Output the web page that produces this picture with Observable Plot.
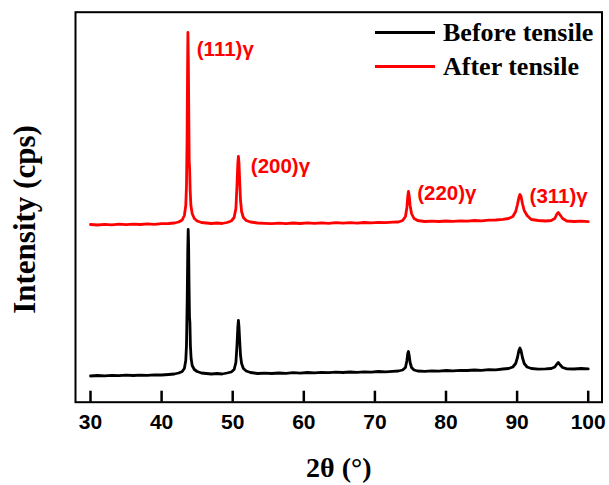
<!DOCTYPE html>
<html>
<head>
<meta charset="utf-8">
<script src="https://cdn.jsdelivr.net/npm/d3@7"></script>
<script src="https://cdn.jsdelivr.net/npm/@observablehq/plot@0.6"></script>
<style>
  html, body { margin: 0; padding: 0; background: #fff; }
  #wrap { position: relative; width: 609px; height: 485px; }
  .legend { position: absolute; left: 375px; top: 16px; font-family: "Liberation Serif", "Times New Roman", serif; font-weight: bold; font-size: 26px; color: #000; }
  .row { display: flex; align-items: center; height: 33.5px; line-height: 33.5px; }
  .sw { width: 60px; height: 3px; margin-right: 8px; }
</style>
</head>
<body>
<div id="wrap"></div>
<script>
// 2θ (°) positions and intensities (cps, arbitrary scale)
const beforeX = [30,31,32,33,34,35,36,37,38,39,40,41,41.8,42.4,42.9,43.2,43.4,43.5,43.6,43.68,43.74,43.8,43.86,43.92,43.98,44.05,44.15,44.3,44.6,45.0,45.6,46.3,47,47.8,48.5,49.2,49.8,50.2,50.45,50.6,50.72,50.8,50.88,50.98,51.1,51.25,51.5,51.9,52.5,53.5,54.5,55.5,56.5,57.5,58.5,59.5,60.5,61.5,62.5,63.5,64.5,65.5,66.5,67.5,68.5,69.5,70.5,71.5,72.5,73.3,73.9,74.3,74.5,74.62,74.72,74.82,74.95,75.15,75.5,76,77,78,79,80,81,82,83,84,85,86,87,88,88.8,89.4,89.8,90.05,90.25,90.4,90.55,90.75,91.0,91.4,92,93,94,94.8,95.3,95.6,95.8,96.0,96.4,97,98,99,100];
const beforeY = [262,267,264,269,265,270,267,271,269,273,272,277,282,292,307,337,417,567,1017,1517,1727,1567,1167,857,797,567,437,367,327,307,292,287,282,287,282,292,302,327,397,567,747,817,757,617,467,387,337,312,297,287,291,287,292,289,295,291,297,293,299,295,300,297,302,299,304,301,307,304,309,312,322,347,417,487,507,467,397,347,322,312,309,314,311,317,314,319,317,322,319,325,324,332,337,352,387,447,517,542,517,447,387,352,337,331,333,337,352,382,397,377,347,334,332,337,333];

const afterX = [30,31,32,33,34,35,36,37,38,39,40,41,41.8,42.4,42.9,43.2,43.4,43.5,43.58,43.65,43.7,43.76,43.82,43.88,43.94,44.02,44.12,44.3,44.6,45,45.6,46.3,47,47.8,48.5,49.2,49.8,50.2,50.45,50.6,50.72,50.8,50.88,50.98,51.1,51.25,51.5,51.9,52.5,53.5,54.5,55.5,56.5,57.5,58.5,59.5,60.5,61.5,62.5,63.5,64.5,65.5,66.5,67.5,68.5,69.5,70.5,71.5,72.5,73.3,73.9,74.3,74.5,74.62,74.72,74.82,74.95,75.15,75.5,76,77,78,79,80,81,82,83,84,85,86,87,88,88.8,89.4,89.8,90.05,90.25,90.4,90.55,90.75,91.0,91.4,92,93,94,94.8,95.3,95.6,95.8,96.0,96.4,97,98,99,100];
const afterY = [1777,1772,1779,1774,1781,1775,1780,1777,1783,1779,1785,1787,1792,1802,1822,1867,1967,2167,2617,3317,3697,3417,2917,2417,2337,2117,1967,1887,1837,1812,1797,1792,1787,1792,1787,1797,1812,1847,1937,2167,2387,2457,2397,2217,2017,1907,1847,1817,1802,1792,1789,1785,1791,1786,1792,1787,1793,1788,1794,1789,1795,1790,1796,1791,1797,1793,1799,1795,1800,1802,1817,1857,1947,2057,2107,2067,1967,1887,1837,1817,1807,1811,1807,1812,1809,1814,1811,1817,1814,1820,1822,1829,1837,1857,1907,1977,2047,2077,2057,1987,1917,1867,1827,1817,1812,1817,1837,1882,1897,1877,1837,1812,1807,1810,1805];

const peakLabels = ["(111)γ", "(200)γ", "(220)γ", "(311)γ"];
const peakLabelX = [44.95, 52.55, 75.95, 91.75];
const peakLabelY = [3527, 2357, 2087, 2057];

const xTicks = [30, 40, 50, 60, 70, 80, 90, 100];
const seriesNames = ["Before tensile", "After tensile"];
const seriesColors = ["#000000", "#ff0000"];

const before = beforeX.map((x, i) => ({x, y: beforeY[i]}));
const after = afterX.map((x, i) => ({x, y: afterY[i]}));
const labels = peakLabels.map((t, i) => ({t, x: peakLabelX[i], y: peakLabelY[i]}));
const tickRows = xTicks.map(x => ({x}));

const sans = "'Liberation Sans', Arial, sans-serif";
const serif = "'Liberation Serif', 'Times New Roman', serif";

const chart = Plot.plot({
  width: 609,
  height: 485,
  marginLeft: 75,
  marginRight: 7.5,
  marginTop: 11.7,
  marginBottom: 83.3,
  style: {background: "#fff", overflow: "visible"},
  x: {domain: [27.89, 101.94], label: null},
  y: {domain: [0, 3900], label: null, axis: null},
  marks: [
    Plot.line(before, {x: "x", y: "y", stroke: seriesColors[0], strokeWidth: 2.8, curve: "linear"}),
    Plot.line(after, {x: "x", y: "y", stroke: seriesColors[1], strokeWidth: 2.8, curve: "linear"}),
    Plot.text(labels, {x: "x", y: "y", text: "t", fill: "#ff0000", textAnchor: "start", lineAnchor: "middle",
      fontFamily: sans, fontWeight: "bold", fontSize: 20.5}),
    Plot.tickX(tickRows, {x: "x", insetTop: 379, stroke: "black", strokeWidth: 2.5}),
    Plot.axisX({ticks: xTicks, tickSize: 0, tickPadding: 12, label: null, fill: "black",
      fontFamily: sans, fontWeight: "bold", fontSize: 21}),
    Plot.frame({stroke: "black", strokeWidth: 2}),
    Plot.text(["2θ (°)"], {frameAnchor: "bottom", dy: 66.3, textAnchor: "middle", lineAnchor: "middle", fontFamily: serif, fontWeight: "bold", fontSize: 28, fill: "black"}),
    Plot.text(["Intensity (cps)"], {frameAnchor: "left", dx: -50, dy: 12.3, rotate: -90, textAnchor: "middle", lineAnchor: "middle", fontFamily: serif, fontWeight: "bold", fontSize: 31, fill: "black"})
  ]
});

const wrap = document.getElementById("wrap");
wrap.appendChild(chart);
const legend = document.createElement("div");
legend.className = "legend";
seriesNames.forEach((name, i) => {
  const row = document.createElement("div");
  row.className = "row";
  const sw = document.createElement("div");
  sw.className = "sw";
  sw.style.background = seriesColors[i];
  const label = document.createElement("span");
  label.textContent = name;
  row.appendChild(sw);
  row.appendChild(label);
  legend.appendChild(row);
});
wrap.appendChild(legend);
</script>
</body>
</html>
